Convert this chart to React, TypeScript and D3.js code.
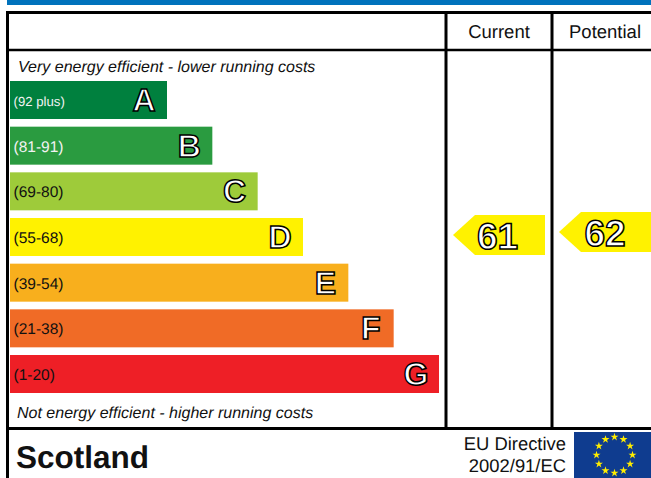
import React from 'react';
import * as d3 from 'd3';

const width = 651;
const height = 478;

// rating bands, best to worst
const bandLetters = ['A', 'B', 'C', 'D', 'E', 'F', 'G'];
const bandRanges = ['(92 plus)', '(81-91)', '(69-80)', '(55-68)', '(39-54)', '(21-38)', '(1-20)'];
const bandColors = ['#00803e', '#2a9b40', '#9ecb3a', '#fff200', '#f8af1d', '#f06b26', '#ee1f26'];
const rangeColors = ['#f2f2f2', '#f2f2f2', '#111', '#111', '#111', '#111', '#111'];

const currentScore = 61;
const potentialScore = 62;

const font = '"Liberation Sans", Arial, sans-serif';

const App: React.FC = () => {
  const y = d3.scaleBand<string>().domain(bandLetters).range([81, 393]).paddingInner(0.168).paddingOuter(0);
  // bars step up evenly from A to G
  const barEnd = d3.scaleLinear().domain([0, 6]).range([167, 439]);
  // arrow height inside the D band
  const scoreY = d3.scaleLinear().domain([55, 68]).range([253, 214]);

  const arrow = (left: number, right: number, cy: number) => {
    const line = d3.line();
    return line([
      [left, cy],
      [left + 22, cy - 20],
      [right, cy - 20],
      [right, cy + 20],
      [left + 22, cy + 20],
    ]) + 'Z';
  };

  const stars = d3.range(12).map((i) => {
    const a = (i / 12) * 2 * Math.PI;
    return { x: 614.5 + 18 * Math.sin(a), y: 455 - 18 * Math.cos(a) };
  });
  const starPath = d3.symbol().type(d3.symbolStar).size(20)() as string;

  const letterStyle = {
    fontFamily: font,
    fontSize: 32,
    fontWeight: 'bold' as const,
    fill: '#fff',
    stroke: '#000',
    strokeWidth: 1.5,
  };

  const scoreLabels = [
    { score: currentScore, left: 453, right: 545, tx: 497.5 },
    { score: potentialScore, left: 559, right: 651, tx: 605 },
  ];

  return (
    <svg width={width} height={height} textRendering="geometricPrecision" style={{ position: 'absolute', left: 0, top: 0 }}>
      <rect x={7} y={0} width={644} height={5} fill="#0072bc" />

      {/* frame */}
      <g stroke="#000" strokeWidth={3} fill="none">
        <path d="M7.5,478V12.5H651" />
        <path d="M7,50H651" strokeWidth={2.5} />
        <path d="M446,12V428" />
        <path d="M552,12V428" />
        <path d="M7,428.5H651" />
      </g>

      <text x={499} y={38} textAnchor="middle" fontFamily={font} fontSize={18.5} fill="#111">Current</text>
      <text x={605} y={38} textAnchor="middle" fontFamily={font} fontSize={18.5} fill="#111">Potential</text>

      <text x={18} y={72} fontFamily={font} fontSize={16} fontStyle="italic" fill="#111">
        Very energy efficient - lower running costs
      </text>
      <text x={17} y={418} fontFamily={font} fontSize={16} fontStyle="italic" fill="#111">
        Not energy efficient - higher running costs
      </text>

      {bandLetters.map((d, i) => {
        const by = y(d) as number;
        return (
          <g key={d}>
            <rect x={10} y={by} width={barEnd(i) - 10} height={y.bandwidth()} fill={bandColors[i]} />
            <text x={13.5} y={by + y.bandwidth() / 2 + 6} fontFamily={font} fontSize={i === 0 ? 13.2 : 15.5} fill={rangeColors[i]}>
              {bandRanges[i]}
            </text>
            <text x={barEnd(i) - 23} y={by + 30} textAnchor="middle" style={letterStyle}>{d}</text>
          </g>
        );
      })}

      {scoreLabels.map((s) => (
        <g key={s.score}>
          <path d={arrow(s.left, s.right, scoreY(s.score))} fill="#fff200" />
          <text x={s.tx} y={scoreY(s.score) + 14} textAnchor="middle" style={{ ...letterStyle, fontSize: 37 }}>{s.score}</text>
        </g>
      ))}

      <text x={16} y={468} fontFamily={font} fontSize={31.5} fontWeight="bold" fill="#111">Scotland</text>
      <text x={566} y={450} textAnchor="end" fontFamily={font} fontSize={18.4} fill="#111">EU Directive</text>
      <text x={566} y={472} textAnchor="end" fontFamily={font} fontSize={18.4} fill="#111">2002/91/EC</text>

      <rect x={574} y={432} width={77} height={46} fill="#0f3c8f" />
      {stars.map((s, i) => (
        <path key={i} d={starPath} transform={`translate(${s.x},${s.y})`} fill="#ffed00" />
      ))}
    </svg>
  );
};

export default App;
